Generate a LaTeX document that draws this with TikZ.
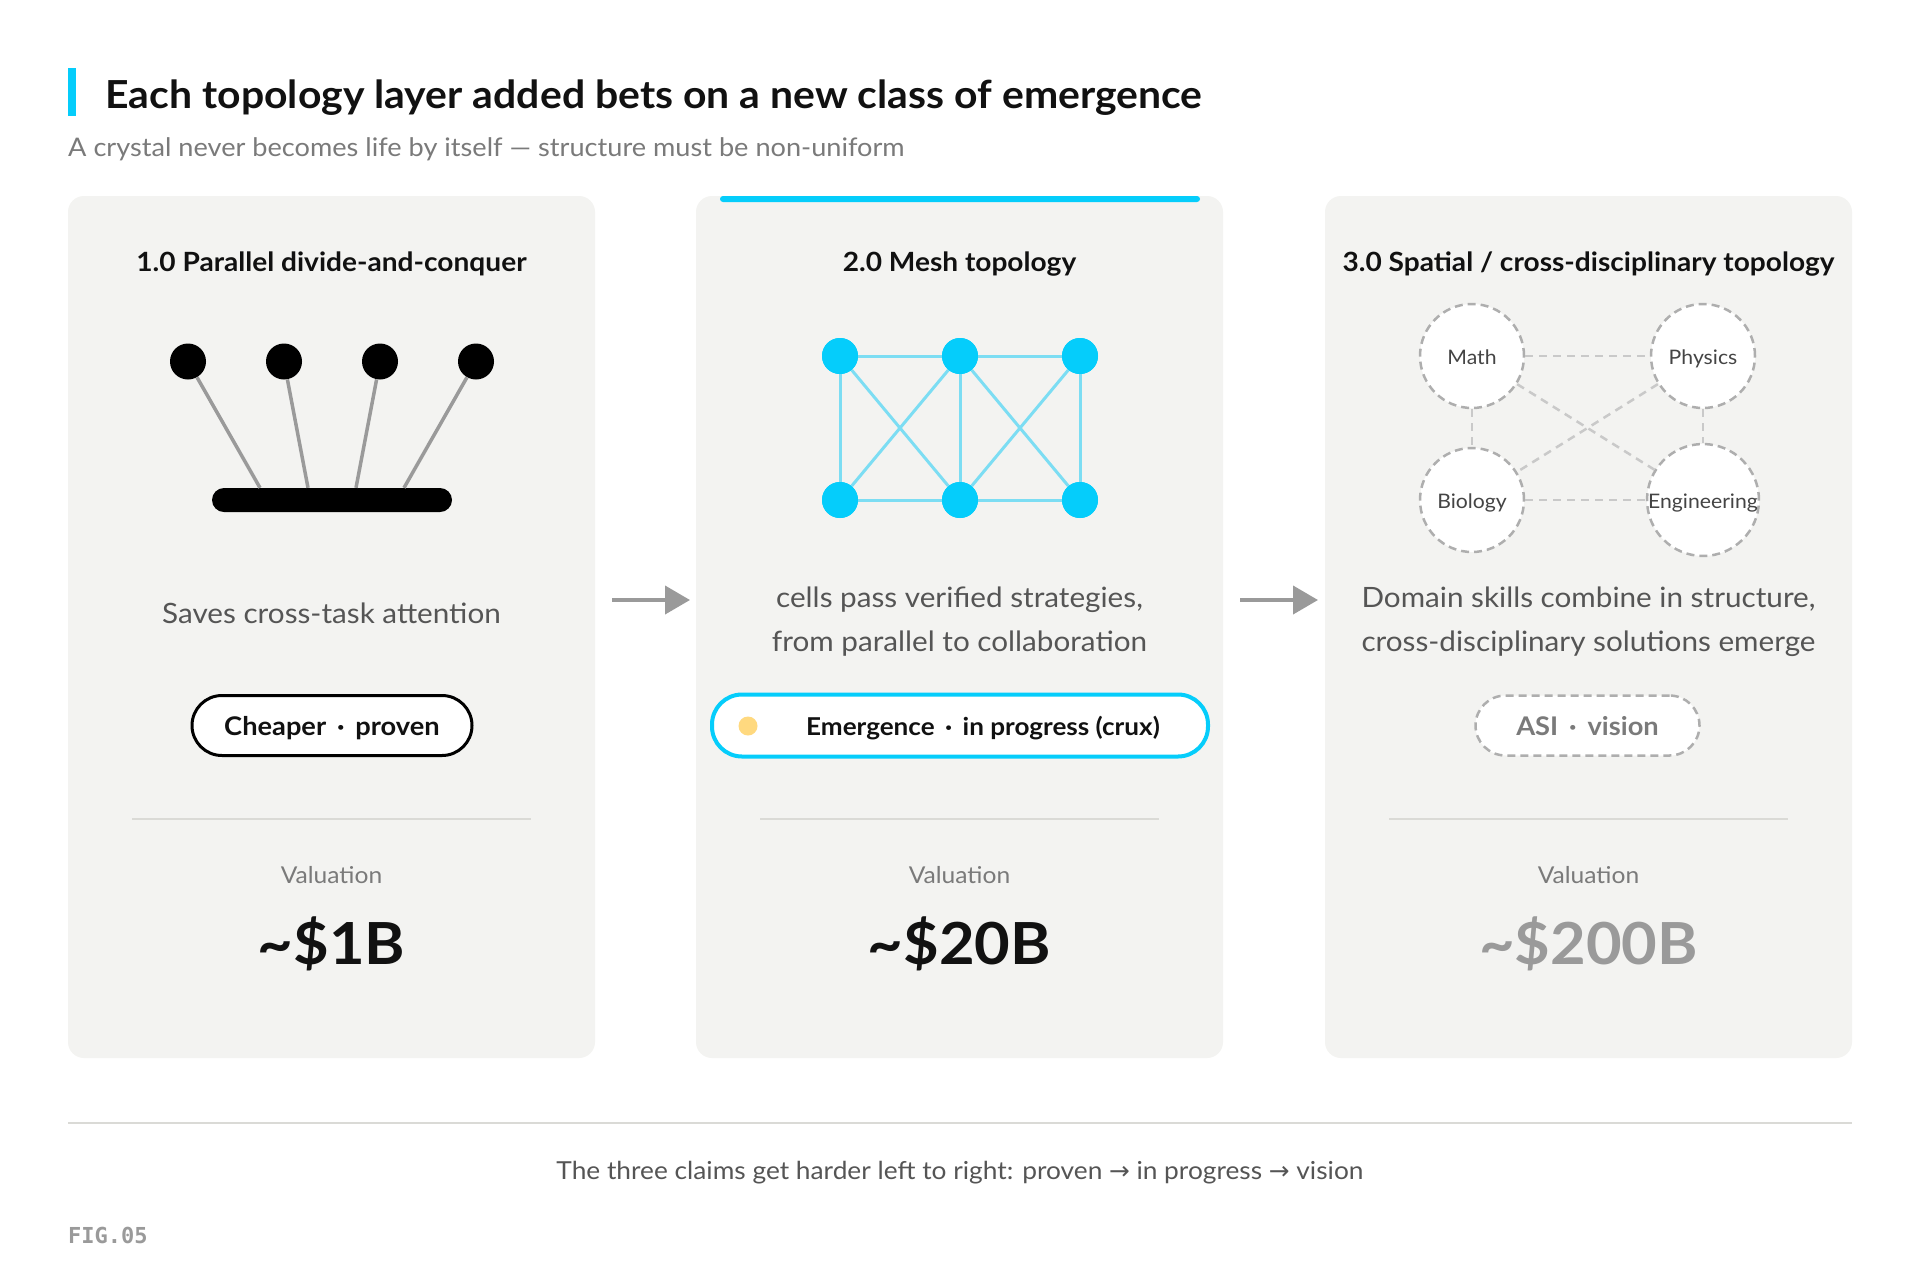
\documentclass[tikz,border=0pt]{standalone}
\usepackage{fontspec}
\setmainfont{Lato}[FakeStretch=1.06]
\newfontfamily\symfont{DejaVu Sans}
\newfontfamily\figfont{DejaVu Sans Mono}
\usetikzlibrary{arrows.meta}
\definecolor{accent}{HTML}{05CDFB}
\definecolor{meshline}{HTML}{7CDDF3}
\definecolor{card}{HTML}{F3F3F1}
\definecolor{rulegray}{HTML}{DADAD6}
\definecolor{ink}{HTML}{111111}
\definecolor{bodygray}{HTML}{555555}
\definecolor{muted}{HTML}{7A7A7A}
\definecolor{spokegray}{HTML}{9A9A9A}
\definecolor{dashgray}{HTML}{AEAEAE}
\definecolor{dashlight}{HTML}{C9C9C9}
\definecolor{sun}{HTML}{FFD97F}
\newcommand{\fsz}[2]{\fontsize{#1pt}{#2pt}\selectfont}
\begin{document}
\begin{tikzpicture}[x=1pt,y=-1pt,
  card/.style={fill=card,rounded corners=16,minimum width=527,minimum height=862,inner sep=0},
  cardtitle/.style={anchor=base,text=ink,font=\fsz{26.5}{32}\bfseries},
  blurb/.style={anchor=base,text=bodygray,align=center,font=\fsz{28}{44}},
  valuelabel/.style={anchor=base,text=muted,font=\fsz{23.2}{28}},
  value/.style={anchor=base,font=\fsz{58}{66}\bfseries},
  pill/.style={fill=white,rounded corners=30,minimum height=60,inner sep=0,text height=23,text depth=4,font=\fsz{25.7}{30}\bfseries},
  topic/.style={circle,draw=dashgray,fill=white,line width=2.5,dash pattern=on 8 off 5,minimum size=104,inner sep=0,text height=20,text depth=4,text=bodygray!80!black,font=\fsz{20}{24}},
  cell/.style={circle,fill=accent,minimum size=36,inner sep=0},
  worker/.style={circle,fill=black,minimum size=36,inner sep=0},
  flow/.style={draw=spokegray,line width=4,-{Triangle[length=25,width=28]}}]
\fill[white] (0,0) rectangle (1920,1280);
\useasboundingbox (0,0) rectangle (1920,1280);

\fill[accent] (68,68) rectangle (76,116);
\node[anchor=base west,text=ink,font=\fsz{38.6}{44}\bfseries] (title) at (102,108) {Each topology layer added bets on a new class of emergence};
\node[anchor=base west,text=muted,font=\fsz{25.6}{30},inner xsep=0] (subtitle) at (68,156) {A crystal never becomes life by itself — structure must be non-uniform};

\node[card] (p1) at (331.5,627) {};
\node[card] (p2) at (959.5,627) {};
\node[card] (p3) at (1588.5,627) {};
\node[fill=accent,rounded corners=3,minimum width=480,minimum height=6,inner sep=0] (hot) at (960,199) {};

\node[cardtitle] (t1) at (331.5,271.5) {1.0 Parallel divide-and-conquer};
\node[cardtitle] (t2) at (959.5,271.5) {2.0 Mesh topology};
\node[cardtitle] (t3) at (1588.5,271.5) {3.0 Spatial / cross-disciplinary topology};

\node[worker] (d1) at (188,361.5) {};
\node[worker] (d2) at (284,361.5) {};
\node[worker] (d3) at (380,361.5) {};
\node[worker] (d4) at (476,361.5) {};
\node[fill=black,rounded corners=12,minimum width=240,minimum height=24,inner sep=0] (bar) at (332,500) {};
\draw[spokegray,line width=3.5] (d1) -- ([xshift=-72]bar.north);
\draw[spokegray,line width=3.5] (d2) -- ([xshift=-24]bar.north);
\draw[spokegray,line width=3.5] (d3) -- ([xshift=24]bar.north);
\draw[spokegray,line width=3.5] (d4) -- ([xshift=72]bar.north);

\node[cell] (c1) at (840,356) {};
\node[cell] (c2) at (960,356) {};
\node[cell] (c3) at (1080,356) {};
\node[cell] (c4) at (840,500) {};
\node[cell] (c5) at (960,500) {};
\node[cell] (c6) at (1080,500) {};
\draw[meshline,line width=3] (c1) -- (c2) -- (c3) -- (c6) -- (c5) -- (c4) -- (c1);
\draw[meshline,line width=3] (c2) -- (c5);
\draw[meshline,line width=3] (c1) -- (c5);
\draw[meshline,line width=3] (c4) -- (c2);
\draw[meshline,line width=3] (c2) -- (c6);
\draw[meshline,line width=3] (c5) -- (c3);
\foreach \n in {c1,c2,c3,c4,c5,c6} \fill[accent] (\n) circle (18);

\node[topic] (math) at (1472,356) {Math};
\node[topic] (phys) at (1703,356) {Physics};
\node[topic] (bio) at (1472,500) {Biology};
\node[topic] (eng) at (1703,500) {Engineering};
\draw[dashlight,line width=2.5,dash pattern=on 8 off 6] (math) -- (phys);
\draw[dashlight,line width=2.5,dash pattern=on 8 off 6] (bio) -- (eng);
\draw[dashlight,line width=2.5,dash pattern=on 8 off 6] (math) -- (bio);
\draw[dashlight,line width=2.5,dash pattern=on 8 off 6] (phys) -- (eng);
\draw[dashlight,line width=2.5,dash pattern=on 8 off 6] (math) -- (eng);
\draw[dashlight,line width=2.5,dash pattern=on 8 off 6] (phys) -- (bio);

\node[blurb] (b1) at (331.5,623) {Saves cross-task attention};
\node[blurb] (b2) at (959.5,651.5) {cells pass verified strategies,\\from parallel to collaboration};
\node[blurb] (b3) at (1588.5,651.5) {Domain skills combine in structure,\\cross-disciplinary solutions emerge};

\node[pill,draw=black,line width=3,minimum width=280,text=ink] (tag1) at (332,725.5) {Cheaper \,·\, proven};
\node[pill,draw=accent,line width=4,minimum width=496,minimum height=62,text=ink,font=\fsz{24.6}{30}\bfseries] (tag2) at (960,725.5) {\hspace*{46pt}Emergence \,·\, in progress (crux)};
\node[circle,fill=sun,minimum size=19,inner sep=0] (spark) at (748,726) {};
\node[pill,draw=dashgray,line width=2.5,dash pattern=on 8 off 5,minimum width=224,text=muted] (tag3) at (1587.5,725.5) {ASI \,·\, vision};

\draw[rulegray,line width=2] (132,819) -- (531,819);
\draw[rulegray,line width=2] (760,819) -- (1159,819);
\draw[rulegray,line width=2] (1389,819) -- (1788,819);

\node[valuelabel] (v1) at (331.5,883) {Valuation};
\node[valuelabel] (v2) at (959.5,883) {Valuation};
\node[valuelabel] (v3) at (1588.5,883) {Valuation};
\node[value,text=ink] (n1) at (331.5,964) {\textasciitilde\$1B};
\node[value,text=ink] (n2) at (959.5,964) {\textasciitilde\$20B};
\node[value,text=spokegray] (n3) at (1588.5,964) {\textasciitilde\$200B};

\coordinate (a1) at (612,600);
\coordinate (a2) at (690,600);
\coordinate (a3) at (1240,600);
\coordinate (a4) at (1318,600);
\draw[flow] (a1) -- (a2);
\draw[flow] (a3) -- (a4);

\draw[rulegray,line width=2] (68,1123) -- (1852,1123);
\node[anchor=base,text=bodygray,font=\fsz{24.8}{28}] (note) at (960,1179) {The three claims get harder left to right: proven {\symfont →} in progress {\symfont →} vision};
\node[anchor=base west,inner xsep=0,text=spokegray,font=\figfont\bfseries\fsz{22}{26}] (fig) at (68,1243) {FIG.05};
\end{tikzpicture}
\end{document}
